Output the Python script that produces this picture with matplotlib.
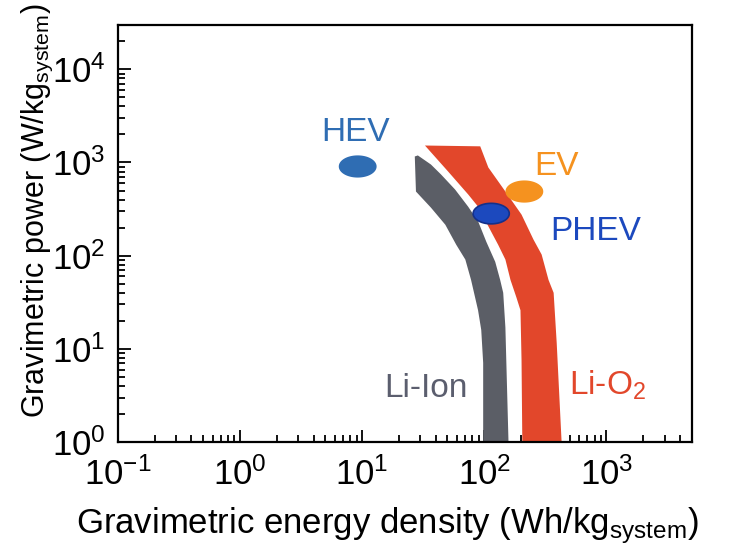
import numpy as np
import matplotlib.pyplot as plt

plt.rcParams['font.family'] = ['Liberation Sans', 'DejaVu Sans']
plt.rcParams['mathtext.fontset'] = 'custom'
plt.rcParams['mathtext.rm'] = 'Liberation Sans'
plt.rcParams['mathtext.it'] = 'Liberation Sans'
plt.rcParams['mathtext.default'] = 'regular'
plt.rcParams['axes.unicode_minus'] = False

# Li-ion band outline (energy density Wh/kg, power W/kg), right edge down then left edge up
liion_e = [28.6, 36.6, 44.3, 57.7, 73.8, 89.3, 104, 123, 135, 143, 149, 158,
           98, 98, 94.5, 89, 78, 70, 59, 48, 36.6, 27.6, 27]
liion_p = [1190, 951, 743, 513, 336, 232, 141, 86, 55, 40, 17, 1,
           1, 7.1, 16, 26, 55, 91, 131, 215, 328, 488, 1160]

# Li-O2 band outline
lio2_e = [32.7, 92.7, 108, 149, 202, 253, 295, 336, 370, 392, 430,
          205, 202, 198, 183, 164, 149, 130, 114, 89, 74, 50.6]
lio2_p = [1520, 1490, 884, 488, 276, 149, 103, 55, 40, 11.6, 1,
          1, 7.6, 26, 36, 55, 91, 131, 181, 336, 453, 800]

# vehicle targets: centre energy, centre power
targets = ['HEV', 'EV', 'PHEV']
target_e = [9.2, 213, 114]
target_p = [906, 488, 283]
target_colors = ['#2f6db3', '#f5921f', '#1c49be']
target_edges = ['#2f6db3', '#f5921f', '#14308a']

grey = '#5b5e66'
red = '#e2472b'

fig = plt.figure(figsize=(7.32, 5.5), dpi=100)
ax = fig.add_axes([0.161, 0.196, 0.784, 0.759])
ax.set_xscale('log')
ax.set_yscale('log')
ax.set_xlim(0.1, 5000)
ax.set_ylim(1, 3e4)

ax.fill(liion_e, liion_p, color=grey, lw=0, zorder=2)
ax.fill(lio2_e, lio2_p, color=red, lw=0, zorder=2)

# ellipses drawn in log space so they look round on the log axes
t = np.linspace(0, 2 * np.pi, 200)
half_w, half_h = 0.148, 0.11
for e, p, c, ec in zip(target_e, target_p, target_colors, target_edges):
    xs = 10 ** (np.log10(e) + half_w * np.cos(t))
    ys = 10 ** (np.log10(p) + half_h * np.sin(t))
    ax.fill(xs, ys, color=c, ec=ec, lw=1.2, zorder=3)

fs = 24
ax.text(8.85, 1683, 'HEV', color='#2f6db3', fontsize=fs, ha='center', va='baseline')
ax.text(392, 743, 'EV', color='#f5921f', fontsize=fs, ha='center', va='baseline')
ax.text(820, 149, 'PHEV', color='#1c49be', fontsize=fs, ha='center', va='baseline')
ax.text(33.3, 3.05, 'Li-Ion', color='#5b5e6e', fontsize=fs, ha='center', va='baseline')
ax.text(1028, 3.2, 'Li-O$_2$', color=red, fontsize=fs, ha='center', va='baseline')

for s in ['top', 'right', 'left', 'bottom']:
    ax.spines[s].set_linewidth(1.6)
ax.tick_params(which='both', direction='in', top=False, right=False, width=1.3,
               labelsize=25)
ax.tick_params(axis='x', pad=11)
ax.tick_params(axis='y', pad=9)
ax.tick_params(which='major', length=9)
ax.tick_params(which='minor', length=5)

ax.set_xlabel('Gravimetric energy density (Wh/kg$_{system}$)', fontsize=25)
ax.set_ylabel('Gravimetric power (W/kg$_{system}$)', fontsize=22)
ax.xaxis.set_label_coords(0.47, -0.152)
ax.yaxis.set_label_coords(-0.11, 0.555)

plt.savefig('out.png', dpi=100)
